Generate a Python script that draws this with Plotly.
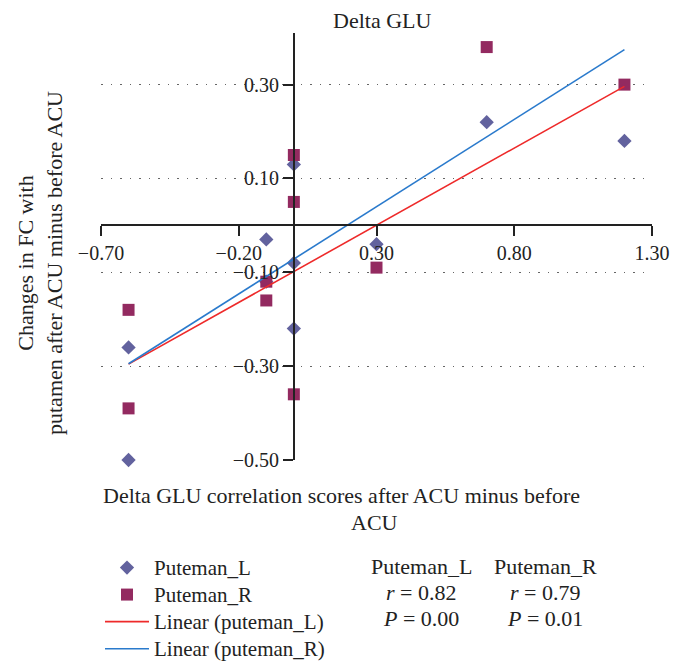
import numpy as np
import plotly.graph_objects as go

# ---- data ----
x_left = [-0.60, -0.60, -0.10, -0.10, 0.00, 0.00, 0.00, 0.30, 0.70, 1.20]
y_left = [-0.50, -0.26, -0.03, -0.12, 0.13, -0.08, -0.22, -0.04, 0.22, 0.18]
x_right = [-0.60, -0.60, -0.10, -0.10, 0.00, 0.00, 0.00, 0.30, 0.70, 1.20]
y_right = [-0.18, -0.39, -0.12, -0.16, 0.15, 0.05, -0.36, -0.09, 0.38, 0.30]

x_ticks = [-0.70, -0.20, 0.30, 0.80, 1.30]
y_ticks = [-0.50, -0.30, -0.10, 0.10, 0.30]

series_names = ["Puteman_L", "Puteman_R", "Linear (puteman_L)", "Linear (puteman_R)"]
stats_cols = ["Puteman_L", "Puteman_R"]
stats_r = ["0.82", "0.79"]
stats_p = ["0.00", "0.01"]

FONT = "Liberation Serif"
FS = 22
TFS = 20
INK = "#222222"

def big(s):
    return f'<span style="font-size:21px">{s}</span>'

# linear fits
def fit_line(xs, ys):
    k, b = np.polyfit(xs, ys, 1)
    xe = np.array([min(xs), max(xs)])
    return xe, k * xe + b

xl, yl = fit_line(x_left, y_left)
xr, yr = fit_line(x_right, y_right)

fig = go.Figure()
fig.add_trace(go.Scatter(x=x_left, y=y_left, mode="markers", name=big(series_names[0]),
                         cliponaxis=False,
                         marker=dict(symbol="diamond", size=11, color="#62629E",
                                     line=dict(width=0))))
fig.add_trace(go.Scatter(x=x_right, y=y_right, mode="markers", name=big(series_names[1]),
                         cliponaxis=False,
                         marker=dict(symbol="square", size=12, color="#932A60",
                                     line=dict(width=0))))
fig.add_trace(go.Scatter(x=xl, y=yl, mode="lines", name=big(series_names[2]),
                         line=dict(color="#EE2A2A", width=1.6)))
fig.add_trace(go.Scatter(x=xr, y=yr, mode="lines", name=big(series_names[3]),
                         line=dict(color="#2A7ACC", width=1.6)))

# page body has an 8px default margin: work in window pixels, then offset
OFF = 8
W, H = 684 - OFF, 672 - OFF
PL, PR, PT, PB = 101, 652, 33, 460        # plot area in window pixels
L, R, T, B = PL - OFF, W - (PR - OFF), PT - OFF, H - (PB - OFF)
pw, ph = W - L - R, H - T - B

def px_x(p):
    return (p - OFF - L) / pw

def px_y(p):
    return (H - B - (p - OFF)) / ph

y_lo, y_hi = -0.50, 0.41
x_lo, x_hi = -0.70, 1.30

fig.update_layout(
    width=W, height=H,
    margin=dict(l=L, r=R, t=T, b=B, autoexpand=False),
    paper_bgcolor="white", plot_bgcolor="white",
    font=dict(family=FONT, size=FS, color=INK),
    showlegend=True,
    legend=dict(x=px_x(100), y=px_y(549), xanchor="left", yanchor="top",
                font=dict(family=FONT, size=18.5, color=INK),
                bgcolor="rgba(0,0,0,0)", itemwidth=44, tracegroupgap=0),
    xaxis=dict(range=[x_lo, x_hi], domain=[0, 1], anchor="free",
               position=(0 - y_lo) / (y_hi - y_lo),
               tickvals=x_ticks, tickformat=".2f",
               showline=True, linecolor=INK, linewidth=1.6,
               ticks="outside", ticklen=10, tickwidth=1.6, tickcolor=INK,
               showgrid=False, zeroline=False,
               tickfont=dict(family=FONT, size=TFS, color=INK)),
    yaxis=dict(range=[y_lo, y_hi], domain=[0, 1], anchor="free",
               position=(0 - x_lo) / (x_hi - x_lo),
               tickvals=y_ticks, tickformat=".2f",
               showline=True, linecolor=INK, linewidth=1.6,
               ticks="outside", ticklen=10, tickwidth=1.6, tickcolor=INK,
               showgrid=True, gridcolor="#666666", gridwidth=1.2,
               griddash="1.5px,8px", zeroline=False,
               tickfont=dict(family=FONT, size=TFS, color=INK)),
)

def note(text, x, y, **kw):
    d = dict(text=text, x=px_x(x), y=px_y(y), xref="paper", yref="paper",
             showarrow=False, xanchor="center", yanchor="middle",
             font=dict(family=FONT, size=FS, color=INK))
    d.update(kw)
    return d

ann = [
    note("Delta GLU", 382, 21),
    note("Delta GLU correlation scores after ACU minus before", 341, 495),
    note("ACU", 374, 522),
    note("Changes in FC with<br>putamen after ACU minus before ACU", 40, 263,
         textangle=-90),
]
col_x = [421, 545]
for cx, name, r, p in zip(col_x, stats_cols, stats_r, stats_p):
    ann.append(note(name, cx, 566))
    ann.append(note(f"<i>r</i> = {r}", cx, 592))
    ann.append(note(f"<i>P</i> = {p}", cx, 618))
fig.update_layout(annotations=ann)

fig.write_html("out.html")
